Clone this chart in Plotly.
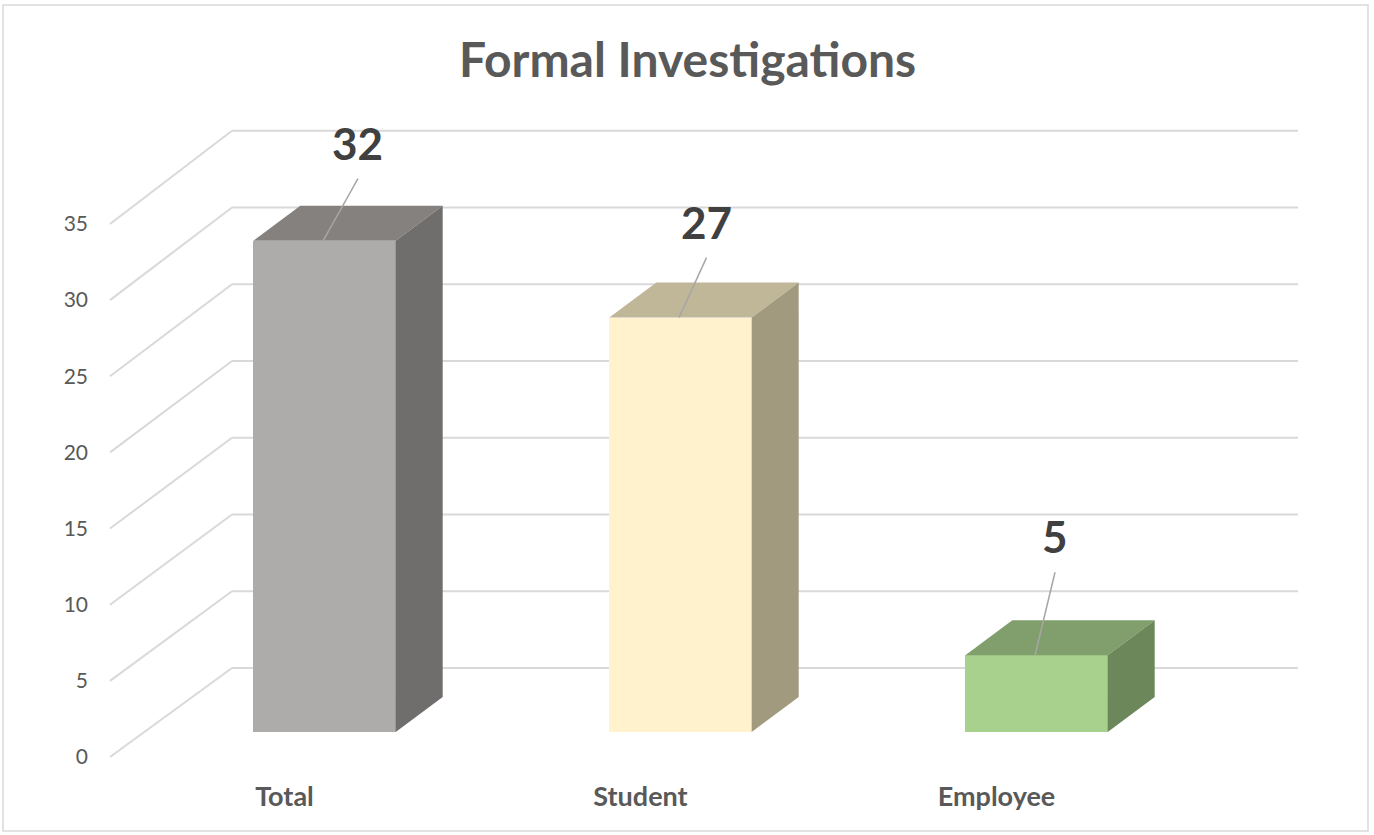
import plotly.graph_objects as go

# ---------------- data ----------------
categories = ["Total", "Student", "Employee"]
values = [32, 27, 5]
value_ticks = [0, 5, 10, 15, 20, 25, 30, 35]
chart_title = "Formal Investigations"

# ---------------- style ----------------
front_colors = ["#AEABAB", "#FFF2CC", "#A9D18E"]
top_colors = ["#85817F", "#C0B698", "#809F6C"]
side_colors = ["#706D6D", "#A19A7E", "#6C875A"]
label_dx = [0.094, 0.073, 0.052]      # data-label offset (category units)
label_dy = [6.4, 6.25, 7.75]          # data-label offset (value units)

W, H = 1374, 835
FONT = "Lato"
GRID = "#D9D9D9"
TEXT = "#595959"

# pixel calibration of the pseudo-3D projection
PX_CAT0, PX_PER_CAT = 324.5, 356.0      # x pixel of first category, px per category
PY_BASE, PX_PER_VAL = 732.0, 15.35      # y pixel of bar base, px per value unit
ML, MR, MT, MB = 95, 1320, 100, 778     # plot area in pixels

BAR_W = 0.40
DEPTH_DX = 47 / PX_PER_CAT
DEPTH_DY = 35 / PX_PER_VAL
BACK_L = (232 - PX_CAT0) / PX_PER_CAT
BACK_R = (1298 - PX_CAT0) / PX_PER_CAT
FRONT_L = (110 - PX_CAT0) / PX_PER_CAT
BACK_DY = (PY_BASE - 668) / PX_PER_VAL
FRONT_PY0, FRONT_PX_PER_VAL = 757.0, 15.23
CAT_LABEL_DX = -40 / PX_PER_CAT


def front_y(v):
    return (PY_BASE - (FRONT_PY0 - v * FRONT_PX_PER_VAL)) / PX_PER_VAL


x_range = [(ML - PX_CAT0) / PX_PER_CAT, (MR - PX_CAT0) / PX_PER_CAT]
y_range = [(PY_BASE - MB) / PX_PER_VAL, (PY_BASE - MT) / PX_PER_VAL]
y2_range = [(FRONT_PY0 - MB) / FRONT_PX_PER_VAL, (FRONT_PY0 - MT) / FRONT_PX_PER_VAL]

fig = go.Figure()

# walls / gridlines
shapes = []
for v in value_ticks:
    shapes.append(dict(type="line", xref="x", yref="y", layer="below",
                       x0=BACK_L, y0=v + BACK_DY, x1=BACK_R, y1=v + BACK_DY,
                       line=dict(color=GRID, width=2)))
    shapes.append(dict(type="line", xref="x", yref="y", layer="below",
                       x0=FRONT_L, y0=front_y(v), x1=BACK_L, y1=v + BACK_DY,
                       line=dict(color=GRID, width=2)))

# front faces (real bars)
xs = list(range(len(categories)))
fig.add_trace(go.Bar(x=xs, y=values, width=BAR_W, marker=dict(color=front_colors, line=dict(width=0)),
                     hoverinfo="skip", showlegend=False))

# top and side faces
for i, v in enumerate(values):
    l, r = i - BAR_W / 2, i + BAR_W / 2
    fig.add_trace(go.Scatter(
        x=[l, r, r + DEPTH_DX, l + DEPTH_DX, l],
        y=[v, v, v + DEPTH_DY, v + DEPTH_DY, v],
        fill="toself", fillcolor=top_colors[i], mode="lines",
        line=dict(width=0, color=top_colors[i]), hoverinfo="skip", showlegend=False))
    fig.add_trace(go.Scatter(
        x=[r, r + DEPTH_DX, r + DEPTH_DX, r, r],
        y=[0, DEPTH_DY, v + DEPTH_DY, v, 0],
        fill="toself", fillcolor=side_colors[i], mode="lines",
        line=dict(width=0, color=side_colors[i]), hoverinfo="skip", showlegend=False))

# data labels + leader lines
annotations = []
for i, v in enumerate(values):
    lx, ly = i + label_dx[i], v + label_dy[i]
    fig.add_trace(go.Scatter(
        x=[i - 0.004, lx], y=[v, ly - 36 / PX_PER_VAL], mode="lines",
        line=dict(color="#A6A6A6", width=1.5), hoverinfo="skip", showlegend=False))
    annotations.append(dict(x=lx, y=ly, xref="x", yref="y", text=str(v), showarrow=False,
                            xanchor="center", yanchor="middle",
                            font=dict(family=FONT, size=44, color="#404040", weight="bold")))

# outer chart border
pw, ph = MR - ML, MB - MT
def paper_x(px): return (px - ML) / pw
def paper_y(py): return (MB - py) / ph
shapes.append(dict(type="rect", xref="paper", yref="paper", layer="below",
                   x0=paper_x(3), x1=paper_x(1368), y0=paper_y(831), y1=paper_y(5),
                   line=dict(color=GRID, width=1.5), fillcolor="rgba(0,0,0,0)"))

fig.update_layout(
    width=W, height=H,
    margin=dict(l=ML, r=W - MR, t=MT, b=H - MB, pad=0),
    paper_bgcolor="white", plot_bgcolor="white",
    title=dict(text=chart_title, x=0.5004, xref="container", xanchor="center",
               y=1 - 60 / H, yref="container", yanchor="middle",
               font=dict(family=FONT, size=48, color=TEXT, weight="bold")),
    xaxis=dict(range=x_range, showgrid=False, zeroline=False, showline=False,
               tickmode="array", tickvals=[i + CAT_LABEL_DX for i in xs], ticktext=categories,
               ticks="", tickfont=dict(family=FONT, size=27, color=TEXT, weight="bold"),
               fixedrange=True),
    yaxis=dict(range=y_range, showgrid=False, zeroline=False, showline=False,
               showticklabels=False, ticks="", fixedrange=True),
    yaxis2=dict(range=y2_range, overlaying="y", side="left", anchor="x",
                showgrid=False, zeroline=False, showline=False,
                tickmode="array", tickvals=value_ticks, ticks="", ticklabelstandoff=6,
                tickfont=dict(family=FONT, size=21, color=TEXT), fixedrange=True),
    shapes=shapes, annotations=annotations, bargap=0,
)
# dummy invisible trace on y2 so the axis renders
fig.add_trace(go.Scatter(x=[x_range[0]], y=[0], yaxis="y2", mode="markers",
                         marker=dict(opacity=0), hoverinfo="skip", showlegend=False))

fig.write_html("out.html", config={"displayModeBar": False},
               post_script="document.body.style.margin='0';")
